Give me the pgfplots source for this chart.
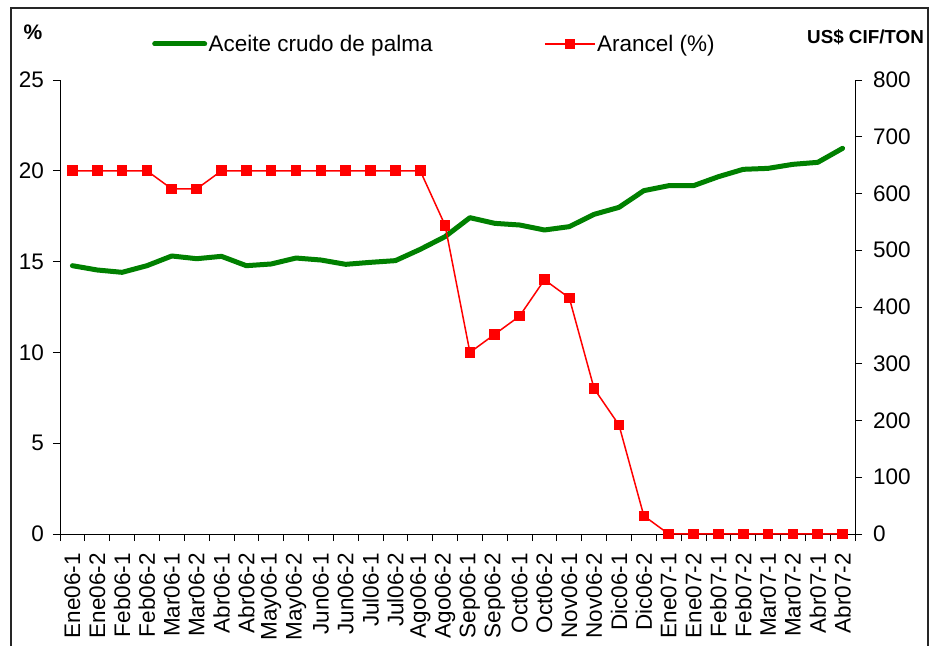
\documentclass[border=0pt]{standalone}
\usepackage{fontspec}
\setmainfont{Liberation Sans}
\usepackage{pgfplots}
\pgfplotsset{compat=1.18}
\definecolor{palm}{RGB}{0,128,0}
\definecolor{aran}{RGB}{255,0,0}
\pgfplotstableread{
x palm
0 472.8
1 465.2
2 461.1
3 472.8
4 489.9
5 485.1
6 489.3
7 472.8
8 475.8
9 486.3
10 482.8
11 475.2
12 478.7
13 481.7
14 501.6
15 524.0
16 557.4
17 547.4
18 544.5
19 535.7
20 541.6
21 563.3
22 575.6
23 605.0
24 613.8
25 613.8
26 629.6
27 642.6
28 644.3
29 651.4
30 654.9
31 679.6
}\palmtable
\pgfplotstableread{
x aran
0 20
1 20
2 20
3 20
4 19
5 19
6 20
7 20
8 20
9 20
10 20
11 20
12 20
13 20
14 20
15 17
16 10
17 11
18 12
19 14
20 13
21 8
22 6
23 1
24 0
25 0
26 0
27 0
28 0
29 0
30 0
31 0
}\arantable
\begin{document}
\begin{tikzpicture}
\useasboundingbox (0,0) rectangle (930pt,646pt);
\draw[line width=1.5pt, black!85] (11pt,0pt) -- (11pt,638pt) -- (928pt,638pt) -- (928pt,0pt);
\pgfplotsset{
 common/.style={
  at={(60pt,112pt)}, anchor=south west, scale only axis,
  width=795pt, height=454pt,
  xmin=-0.5, xmax=31.5, ymin=0, clip=false,
  tick align=outside, major tick length=7pt,
  every tick/.style={black, line width=0.8pt},
  axis line style={black, line width=0.8pt},
  tick label style={font=\fontsize{22.5}{26}\selectfont},
  /pgf/number format/assume math mode=true,
 }
}
\begin{axis}[common, ymax=800,
  axis y line*=right, axis x line*=bottom,
  ytick={0,100,...,800},
  yticklabel style={anchor=west, inner sep=0pt},
  yticklabel shift=11pt,
  xtick={-0.5,0.5,1.5,2.5,3.5,4.5,5.5,6.5,7.5,8.5,9.5,10.5,11.5,12.5,13.5,14.5,15.5,16.5,17.5,18.5,19.5,20.5,21.5,22.5,23.5,24.5,25.5,26.5,27.5,28.5,29.5,30.5,31.5},
  x tick label as interval,
  xticklabels={Ene06-1,Ene06-2,Feb06-1,Feb06-2,Mar06-1,Mar06-2,Abr06-1,Abr06-2,May06-1,May06-2,Jun06-1,Jun06-2,Jul06-1,Jul06-2,Ago06-1,Ago06-2,Sep06-1,Sep06-2,Oct06-1,Oct06-2,Nov06-1,Nov06-2,Dic06-1,Dic06-2,Ene07-1,Ene07-2,Feb07-1,Feb07-2,Mar07-1,Mar07-2,Abr07-1,Abr07-2},
  xticklabel style={rotate=90, anchor=east, inner sep=0pt},
  xticklabel shift=12pt,
]
\addplot[palm, line width=5pt, line join=round, line cap=round] table[x=x, y=palm] {\palmtable};
\end{axis}
\begin{axis}[common, ymax=25,
  axis y line*=left, axis x line=none,
  ytick={0,5,...,25},
  yticklabel style={anchor=east, inner sep=0pt},
  yticklabel shift=9pt,
  legend columns=2,
  legend style={at={(axis description cs:0.1157,1.0793)}, anchor=west, draw=none, fill=none, inner sep=0pt,
    font=\fontsize{22.5}{26}\selectfont,
    nodes={inner sep=1.5pt},
    /tikz/every even column/.append style={column sep=110pt}},
  legend image code/.code={\draw[mark repeat=2, mark phase=2, #1] plot coordinates {(0pt,0pt) (25pt,0pt) (50pt,0pt)};},
]
\addlegendimage{palm, line width=5pt, line cap=round}
\addlegendentry{Aceite crudo de palma}
\addplot[aran, line width=1.5pt, mark=square*, mark size=4.8pt, mark options={solid, fill=aran, draw=aran, line width=0pt}] table[x=x, y=aran] {\arantable};
\addlegendentry{Arancel (\%)}
\end{axis}
\node[anchor=center, font=\fontsize{21}{24}\selectfont\bfseries, inner sep=0pt] at (33pt,614pt) {\%};
\node[anchor=west, font=\fontsize{18.8}{22}\selectfont\bfseries, inner sep=0pt] at (807pt,608.5pt) {US\$ CIF/TON};
\end{tikzpicture}
\end{document}
